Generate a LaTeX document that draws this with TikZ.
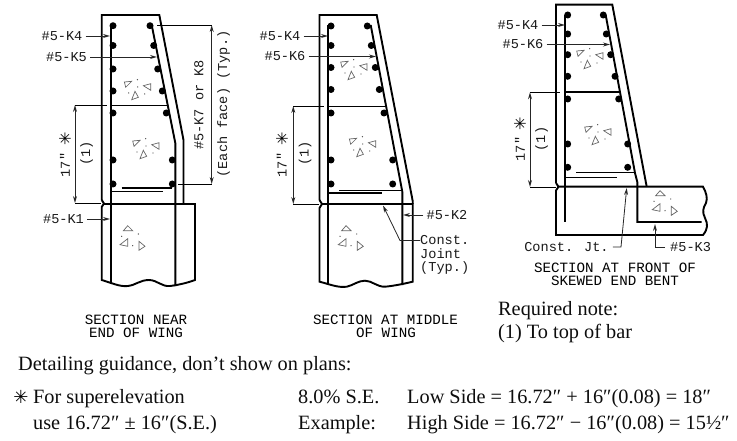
\documentclass[tikz,border=0pt]{standalone}
\usepackage{fontspec}
\usetikzlibrary{arrows.meta}
\setmainfont{Liberation Serif}
\newfontfamily\cadfont{Liberation Mono}
\newfontfamily\symfont{DejaVu Sans}
\tikzset{
 x=1pt,y=-1pt,
 wall/.style={line width=1.9pt,black,line join=miter},
 rebar/.style={line width=1.9pt,black},
 thin line/.style={line width=0.8pt,black},
 leader/.style={line width=0.8pt,black!85,-{Stealth[open,length=7pt,width=4pt]}},
 dimline/.style={line width=0.8pt,black!85,{Stealth[open,length=7pt,width=4pt]}-{Stealth[open,length=7pt,width=4pt]}},
 cad/.style={inner sep=0pt,font=\cadfont\fontsize{13.6}{14}\selectfont,text=black!90},
 cadv/.style={cad,rotate=90},
 caption/.style={inner sep=0pt,font=\cadfont\fontsize{14.2}{14}\selectfont,text=black},
 serif/.style={inner sep=0pt,anchor=base west,font=\fontsize{20.3}{22}\selectfont,text=black!95},
 star/.style={inner sep=0pt,font=\symfont\fontsize{16}{16}\selectfont,text=black},
 starv/.style={star,rotate=90},
 bardot/.style={fill=black,draw=none},
 aggr/.style={draw=black!60,line width=0.7pt,fill=white},
 aggrA/.pic={
  \draw[aggr] (-12.3,-6)--(-5,-6.7)--(-11,-0.7)--cycle;
  \draw[aggr] (6.7,-2.3)--(14,-4.3)--(14,2.3)--cycle;
  \draw[aggr] (-1.7,3.3)--(-5,11.7)--(1.7,9.3)--cycle;
  \foreach \p in {(0.7,-8.3),(1,-1),(-8,5),(8,6)} \fill[black!70] \p circle (0.7);
 },
 aggrB/.pic={
  \draw[aggr] (-4,-12.3)--(-8.3,-7.3)--(1,-7.3)--cycle;
  \draw[aggr] (-11.7,6.7)--(-4,0.7)--(-4,8.3)--cycle;
  \draw[aggr] (7.3,3.3)--(7.3,12.3)--(13.3,8.3)--cycle;
  \foreach \p in {(-10,-1.7),(6.7,-4),(1,7.7)} \fill[black!70] \p circle (0.7);
 },
}
\newcommand{\bardots}[1]{\foreach \p in {#1} \fill[bardot] \p circle (3.5);}
\begin{document}
\begin{tikzpicture}
\useasboundingbox (0,0) rectangle (737,441);
% ---------- Section 1
\draw[wall] (101.7,200)--(101.7,15)--(159.3,15)--(183.5,140)--(183.5,204);
\draw[wall] (101.7,200)--(104,203.5)--(101.7,207)--(101.7,280)
  .. controls (112,283) and (120,287) .. (128,286)
  .. controls (136,285) and (140,280) .. (149,280)
  .. controls (157,280) and (162,287) .. (170,286)
  .. controls (178,285) and (187,283) .. (195,280)--(195,204)--(104,204);
\draw[rebar] (110.7,25)--(110.7,282);
\draw[rebar] (151.7,25)--(175.3,143)--(175.3,286);
\draw[thin line] (110.7,105)--(168,105);
\draw[rebar] (121.7,187.7)--(172,187.7);
\draw[thin line] (110.7,191.7)--(163,191.7);
\bardots{(113,25.7),(113,45.5),(113,69),(113,91),(113,113),(113,160),(113,184),(150,25.7),(153.7,45.5),(157.7,69),(162.3,91),(166.3,113),(172.3,160),(172.3,184)}
\pic at (136.7,88) {aggrA};
\pic at (145,147) {aggrA};
\pic at (131.7,238) {aggrB};
\node[cad] (aK4) at (62,36) {\#5-K4};
\node[cad] (aK5) at (66.5,57) {\#5-K5};
\node[cad] (aK1) at (63.5,219) {\#5-K1};
\coordinate (aK4e) at (110,36);
\coordinate (aK5e) at (157,57);
\coordinate (aK1e) at (110,219);
\draw[leader] (aK4.east)++(3,0)--(aK4e);
\draw[leader] (aK5.east)++(3,0)--(aK5e);
\draw[leader] (aK1.east)++(3,0)--(aK1e);
\coordinate (aD1) at (75,105);
\coordinate (aD2) at (75,203);
\draw[dimline] (aD1)--(aD2);
\draw[thin line] (aD1)--(107,105);
\draw[thin line] (aD2)--(101,203);
\node[cadv] (a17) at (65,165) {17″};
\node[starv] (aStar) at (65,139) {✳};
\node[cadv] (a1) at (86.5,153.5) {(1)};
\coordinate (aE1) at (211.7,25);
\coordinate (aE2) at (211.7,184);
\draw[dimline] (aE1)--(aE2);
\draw[thin line] (157,25)--(aE1);
\draw[thin line] (178,184)--(aE2);
\node[cadv] (aK7) at (199,105) {\#5-K7 or K8};
\node[cadv] (aEach) at (223.5,104) {(Each face) (Typ.)};
\node[caption] (aC1) at (136,319.5) {SECTION NEAR};
\node[caption] (aC2) at (136,333) {END OF WING};
% ---------- Section 2
\draw[wall] (319.5,200)--(319.5,15)--(376.7,15)--(412.7,201)--(412.7,204);
\draw[wall] (319.5,200)--(322,204)--(319.5,208)--(319.5,281.7)
  .. controls (329,284) and (338,288) .. (346.7,286.7)
  .. controls (354,285) and (358,280.7) .. (365,280.7)
  .. controls (372,280.7) and (377,287) .. (385,286.7)
  .. controls (393,286) and (403,284) .. (412.7,281.7)--(412.7,204)--(322,204);
\draw[rebar] (328.3,25)--(328.3,284);
\draw[rebar] (370.7,25)--(402.3,191.7)--(402.3,285);
\draw[thin line] (328.3,106)--(385,106);
\draw[thin line] (339,190)--(402,190);
\draw[rebar] (328.3,193.3)--(381.7,193.3);
\bardots{(331,26),(331,45.5),(331,67.5),(331,89.5),(331,113),(331,160),(331,184),(367.3,26),(371.3,45.5),(375.3,67.5),(379.3,89.5),(384,113),(392.7,160),(392.7,184)}
\pic at (353,68) {aggrA};
\pic at (361.7,145) {aggrA};
\pic at (350,238) {aggrB};
\node[cad] (bK4) at (280,36) {\#5-K4};
\node[cad] (bK6) at (285,56.5) {\#5-K6};
\node[cad] (bK2) at (447,215) {\#5-K2};
\coordinate (bK4e) at (328,36);
\coordinate (bK6e) at (376,56.5);
\coordinate (bK2e) at (403,215);
\draw[leader] (bK4.east)++(3,0)--(bK4e);
\draw[leader] (bK6.east)++(3,0)--(bK6e);
\draw[leader] (bK2.west)++(-3,0)--(bK2e);
\coordinate (bD1) at (293.3,106);
\coordinate (bD2) at (293.3,204);
\draw[dimline] (bD1)--(bD2);
\draw[thin line] (bD1)--(324,106);
\draw[thin line] (bD2)--(319,204);
\node[cadv] (b17) at (281.7,165) {17″};
\node[starv] (bStar) at (282,139) {✳};
\node[cadv] (b1) at (305,153.5) {(1)};
\node[cad,anchor=west] (bC1) at (420,240.5) {Const.};
\node[cad,anchor=west] (bC2) at (420,254) {Joint};
\node[cad,anchor=west] (bC3) at (420,268) {(Typ.)};
\coordinate (bJ) at (383,205.5);
\draw[leader] (bC1.west)--(400,240.5)--(bJ);
\node[caption] (bT1) at (385.5,319.5) {SECTION AT MIDDLE};
\node[caption] (bT2) at (386,333) {OF WING};
% ---------- Section 3
\draw[wall] (556,183)--(556,4.7)--(612.3,4.7)--(646.7,186.7);
\draw[wall] (556,183)--(558.5,186.7)--(556,190.5)--(556,235)--(703,235)
  .. controls (708,229) and (708,224) .. (705,218)
  .. controls (702,212) and (703,208) .. (706,203)
  .. controls (708,198) and (706,192) .. (703,186.7)--(558.5,186.7);
\draw[rebar] (565,15)--(565,222);
\draw[rebar] (605.7,15)--(635,173)--(637.3,182)--(637.3,222)--(701.7,222);
\draw[rebar] (565,91.7)--(620,91.7);
\draw[thin line] (576,172.3)--(635,172.3);
\draw[thin line] (565,177.3)--(616.7,177.3);
\bardots{(567.7,15),(567.7,34),(567.7,54.7),(567.7,76.3),(567.7,99),(567.7,144),(567.7,167.3),(603.3,15),(606.3,34),(610.7,54.7),(615,76.3),(618.7,99),(627.7,144),(627.7,167.3)}
\pic at (589,57) {aggrA};
\pic at (597,133) {aggrA};
\pic at (664,203) {aggrB};
\node[cad] (cK4) at (518,25) {\#5-K4};
\node[cad] (cK6) at (523,44.5) {\#5-K6};
\coordinate (cK4e) at (565,25);
\coordinate (cK6e) at (610,44.5);
\draw[leader] (cK4.east)++(3,0)--(cK4e);
\draw[leader] (cK6.east)++(3,0)--(cK6e);
\coordinate (cD1) at (530,92.3);
\coordinate (cD2) at (530,187);
\draw[dimline] (cD1)--(cD2);
\draw[thin line] (cD1)--(560,92.3);
\draw[thin line] (cD2)--(556,187);
\node[cadv] (c17) at (520,149) {17″};
\node[starv] (cStar) at (520,124) {✳};
\node[cadv] (c1) at (541.7,139) {(1)};
\node[cad] (cCJ) at (566.5,247) {Const. Jt.};
\node[cad,anchor=west] (cK3) at (670,247) {\#5-K3};
\coordinate (cJ) at (626.7,188);
\coordinate (cB) at (655,224);
\draw[leader] (cCJ.east)++(4,0)--(621,247)--(cJ);
\draw[leader] (cK3.west)++(-5,0)--(655,247)--(cB);
\node[caption] (cT1) at (615,267.5) {SECTION AT FRONT OF};
\node[caption] (cT2) at (615,281) {SKEWED END BENT};
% ---------- Notes
\node[serif] (n1) at (498,315) {Required note:};
\node[serif] (n2) at (498,338.5) {(1) To top of bar};
\node[serif] (d0) at (18,370) {Detailing guidance, don’t show on plans:};
\node[star,font=\symfont\fontsize{18}{18}\selectfont] (dS) at (21,397) {✳};
\node[serif] (d1) at (33,403) {For superelevation};
\node[serif] (d2) at (33,429) {use 16.72″ ± 16″(S.E.)};
\node[serif] (d3) at (298,403) {8.0\% S.E.};
\node[serif] (d4) at (298,429) {Example:};
\node[serif] (d5) at (407,403) {Low Side = 16.72″ + 16″(0.08) = 18″};
\node[serif] (d6) at (407,429) {High Side = 16.72″ − 16″(0.08) = 15½″};
\end{tikzpicture}
\end{document}
